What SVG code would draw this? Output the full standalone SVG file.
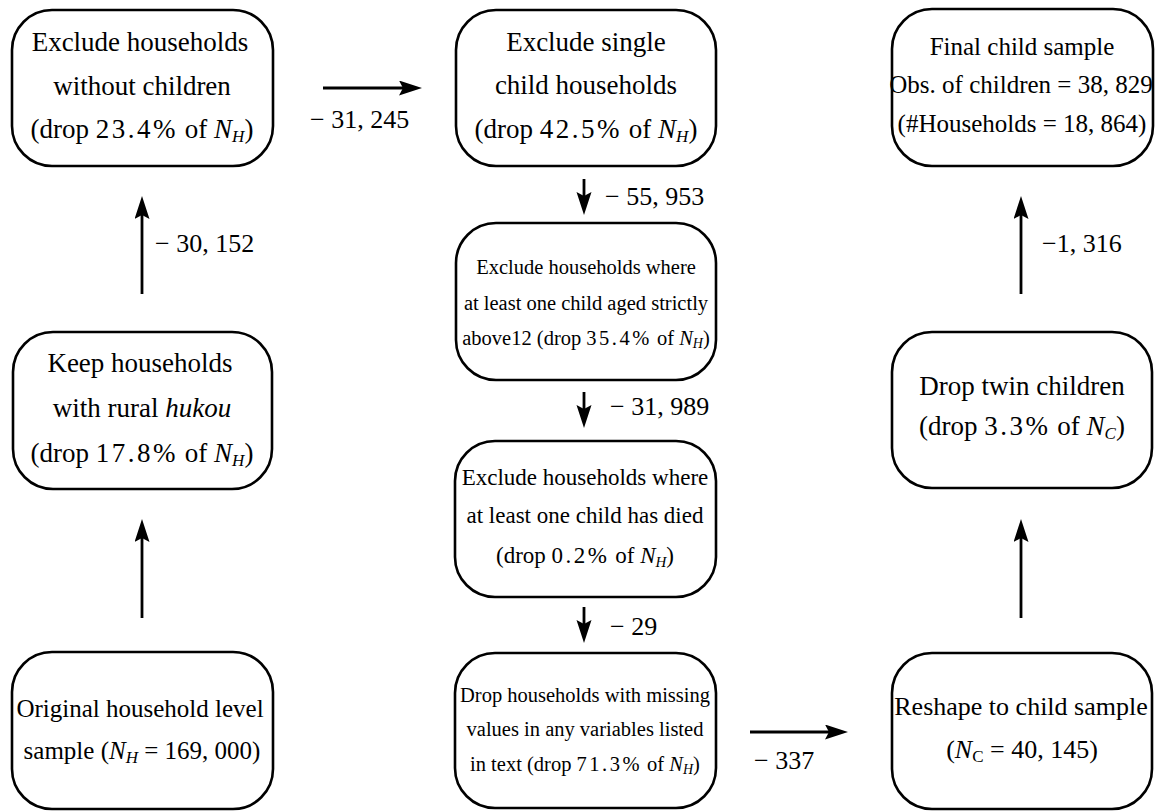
<svg xmlns="http://www.w3.org/2000/svg" width="1158" height="812" viewBox="0 0 1158 812">
<style>
.box{fill:#fff;stroke:#000;stroke-width:2.6}
.t{font-family:"Liberation Serif","Times New Roman",serif;font-size:27px;text-anchor:middle;fill:#000}
.m{font-size:23px}
.s{font-size:20.5px}
.f25{font-size:25px}
.f26{font-size:26px}
.lbl{font-family:"Liberation Serif","Times New Roman",serif;font-size:26px;fill:#000}
.i{font-style:italic}
.n{letter-spacing:2.5px}
.conn line{stroke:#000;stroke-width:2.8}
</style>
<defs>
<marker id="ah" markerUnits="userSpaceOnUse" markerWidth="26" markerHeight="16" refX="13" refY="7.5" orient="auto">
<path d="M0,0 L23,7.5 L0,15 L4,7.5 z" fill="#000"/>
</marker>
</defs>
<rect width="1158" height="812" fill="#fff"/>
<g id="connectors" class="conn">
<line x1="323" y1="88" x2="412" y2="88" marker-end="url(#ah)"/>
<line x1="142" y1="294" x2="142" y2="206" marker-end="url(#ah)"/>
<line x1="142" y1="618" x2="142" y2="529" marker-end="url(#ah)"/>
<line x1="584" y1="179" x2="584" y2="205" marker-end="url(#ah)"/>
<line x1="584" y1="392" x2="584" y2="418" marker-end="url(#ah)"/>
<line x1="584" y1="607" x2="584" y2="633" marker-end="url(#ah)"/>
<line x1="750" y1="732" x2="838" y2="732" marker-end="url(#ah)"/>
<line x1="1021" y1="618" x2="1021" y2="529" marker-end="url(#ah)"/>
<line x1="1021" y1="294" x2="1021" y2="206" marker-end="url(#ah)"/>
<text class="lbl" x="310" y="128">− 31, 245</text>
<text class="lbl" x="155" y="252">− 30, 152</text>
<text class="lbl" x="605" y="205">− 55, 953</text>
<text class="lbl" x="610" y="415">− 31, 989</text>
<text class="lbl" x="610" y="635">− 29</text>
<text class="lbl" x="754" y="769">− 337</text>
<text class="lbl" x="1042" y="252">−1, 316</text>
</g>
<g id="n1">
<rect class="box" x="12" y="10" width="261" height="156" rx="40"/>
<text class="t" x="140" y="51">Exclude households</text>
<text class="t" x="142" y="95">without children</text>
<text class="t" x="142" y="138">(drop <tspan class="n">23.4%</tspan> of <tspan class="i">N</tspan><tspan class="i" font-size="17" dy="4">H</tspan><tspan dy="-4">)</tspan></text>
</g>
<g id="n2">
<rect class="box" x="456" y="10" width="260" height="156" rx="40"/>
<text class="t" x="586" y="51">Exclude single</text>
<text class="t" x="586" y="94">child households</text>
<text class="t" x="586" y="138">(drop <tspan class="n">42.5%</tspan> of <tspan class="i">N</tspan><tspan class="i" font-size="17" dy="4">H</tspan><tspan dy="-4">)</tspan></text>
</g>
<g id="n3">
<rect class="box" x="892" y="9" width="261" height="157" rx="40"/>
<text class="t f25" x="1022" y="55">Final child sample</text>
<text class="t f25" x="1021" y="93">Obs. of children = 38, 829</text>
<text class="t f25" x="1022" y="132">(#Households = 18, 864)</text>
</g>
<g id="n4">
<rect class="box" x="13" y="332" width="259" height="157" rx="40"/>
<text class="t" x="140" y="372">Keep households</text>
<text class="t" x="142" y="417">with rural <tspan class="i">hukou</tspan></text>
<text class="t" x="142" y="462">(drop <tspan class="n">17.8%</tspan> of <tspan class="i">N</tspan><tspan class="i" font-size="17" dy="4">H</tspan><tspan dy="-4">)</tspan></text>
</g>
<g id="n5">
<rect class="box" x="456" y="223" width="260" height="157" rx="40"/>
<text class="t s" x="586" y="274">Exclude households where</text>
<text class="t s" x="586" y="310">at least one child aged strictly</text>
<text class="t s" x="586" y="345">above12 (drop <tspan class="n">35.4%</tspan> of <tspan class="i">N</tspan><tspan class="i" font-size="14" dy="3">H</tspan><tspan dy="-3">)</tspan></text>
</g>
<g id="n6">
<rect class="box" x="455" y="441" width="261" height="156" rx="40"/>
<text class="t m" x="585" y="485">Exclude households where</text>
<text class="t m" x="585" y="523">at least one child has died</text>
<text class="t m" x="585" y="563">(drop <tspan class="n">0.2%</tspan> of <tspan class="i">N</tspan><tspan class="i" font-size="15" dy="4">H</tspan><tspan dy="-4">)</tspan></text>
</g>
<g id="n7">
<rect class="box" x="455" y="653" width="261" height="155" rx="40"/>
<text class="t s" x="585" y="702">Drop households with missing</text>
<text class="t s" x="585" y="736">values in any variables listed</text>
<text class="t s" x="585" y="771">in text (drop <tspan class="n">71.3%</tspan> of <tspan class="i">N</tspan><tspan class="i" font-size="14" dy="3">H</tspan><tspan dy="-3">)</tspan></text>
</g>
<g id="n8">
<rect class="box" x="12" y="652" width="261" height="157" rx="40"/>
<text class="t f25" x="140" y="717">Original household level</text>
<text class="t f25" x="142" y="759">sample (<tspan class="i">N</tspan><tspan class="i" font-size="17" dy="4">H</tspan><tspan dy="-4"> = 169, 000)</tspan></text>
</g>
<g id="n9">
<rect class="box" x="892" y="653" width="260" height="156" rx="40"/>
<text class="t f26" x="1021" y="715">Reshape to child sample</text>
<text class="t f26" x="1022" y="758">(<tspan class="i">N</tspan><tspan font-size="17" dy="4">C</tspan><tspan dy="-4"> = 40, 145)</tspan></text>
</g>
<g id="n10">
<rect class="box" x="892" y="332" width="260" height="156" rx="40"/>
<text class="t" x="1022" y="395">Drop twin children</text>
<text class="t" x="1022" y="435">(drop <tspan class="n">3.3%</tspan> of <tspan class="i">N</tspan><tspan class="i" font-size="17" dy="4">C</tspan><tspan dy="-4">)</tspan></text>
</g>
</svg>
